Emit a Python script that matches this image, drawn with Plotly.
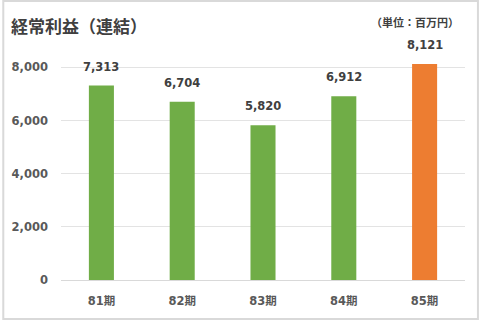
import plotly.graph_objects as go

categories = ["81期", "82期", "83期", "84期", "85期"]
values = [7313, 6704, 5820, 6912, 8121]
bar_colors = ["#70AD47", "#70AD47", "#70AD47", "#70AD47", "#ED7D31"]
value_labels = ["7,313", "6,704", "5,820", "6,912", "8,121"]
y_tickvals = [0, 2000, 4000, 6000, 8000]
y_ticktext = ["0", "2,000", "4,000", "6,000", "8,000"]

num_font = "DejaVu Sans, Noto Sans CJK JP, sans-serif"

fig = go.Figure()
fig.add_trace(go.Bar(
    x=categories, y=values, marker=dict(color=bar_colors, line=dict(width=0)),
    width=0.31, hoverinfo="skip",
))
for c, v, t in zip(categories, values, value_labels):
    fig.add_annotation(x=c, y=v, text="<b>" + t + "</b>", showarrow=False,
                       yanchor="bottom", yshift=10,
                       font=dict(family=num_font, size=11.5, color="#404040"))

fig.add_annotation(xref="paper", yref="paper", x=-59/406, y=1, xanchor="left", yanchor="top",
                   xshift=7, yshift=54 - 11, text="<b>経常利益（連結）</b>", showarrow=False,
                   font=dict(family="Noto Sans CJK JP", size=17, color="#404040"))
fig.add_annotation(xref="paper", yref="paper", x=1, y=1, xanchor="right", yanchor="top",
                   xshift=-4, yshift=54 - 12, text="<b>（単位：百万円）</b>", showarrow=False,
                   font=dict(family="Noto Sans CJK JP", size=11, color="#404040"))

# outer border
fig.add_shape(type="rect", xref="paper", yref="paper",
              x0=-58/406, x1=1 + 13/406, y0=-39/226, y1=1 + 53/226,
              line=dict(color="#D9D9D9", width=2), fillcolor="rgba(0,0,0,0)", layer="below")

fig.update_layout(
    width=480, height=321,
    margin=dict(l=59, r=15, t=54, b=41),
    paper_bgcolor="white", plot_bgcolor="white",
    showlegend=False,
    xaxis=dict(showgrid=False, showline=True, linecolor="#D9D9D9", linewidth=1,
               ticks="", ticklabelstandoff=10, fixedrange=True,
               tickfont=dict(family=num_font, size=11.5, color="#595959")),
    yaxis=dict(range=[0, 8500], tickvals=y_tickvals, ticktext=["<b>" + t + "</b>" for t in y_ticktext],
               showgrid=True, gridcolor="#E3E3E3", gridwidth=1, zeroline=False,
               ticks="", ticklabelstandoff=12, showline=False,
               tickfont=dict(family=num_font, size=11.5, color="#595959")),
)
fig.update_xaxes(ticktext=["<b>" + c + "</b>" for c in categories], tickvals=categories)

fig.write_html("out.html")
